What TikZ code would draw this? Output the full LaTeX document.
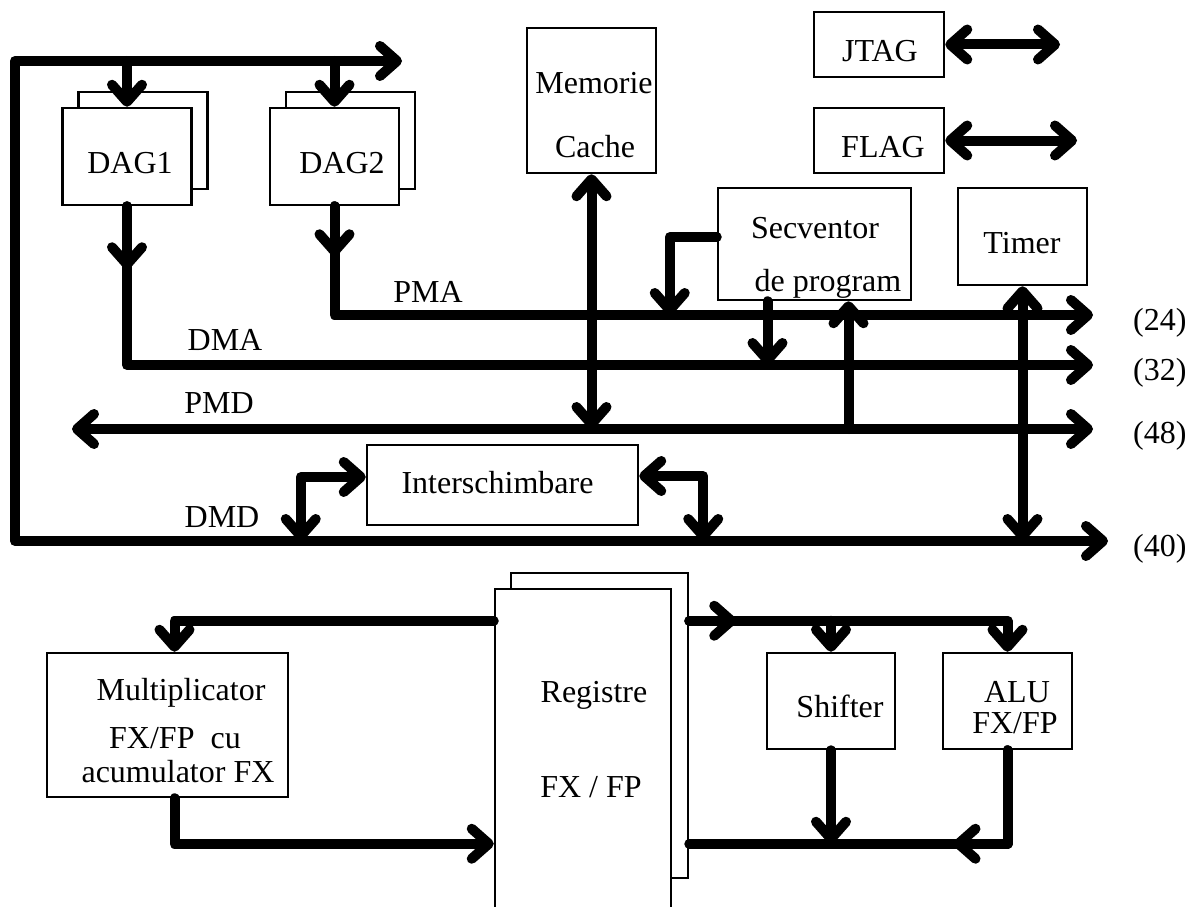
\documentclass[tikz,border=0pt]{standalone}
\usepackage{fontspec}
\setmainfont{Liberation Serif}
\usetikzlibrary{arrows.meta,positioning,calc}

\begin{document}
\begin{tikzpicture}[
        x=1pt, y=-1pt,
        >={Straight Barb[length=17pt,width=30pt,round]},
        bus/.style={line width=10pt, line cap=round, line join=round},
        box/.style={rectangle, draw, fill=white, line width=2.5pt, inner sep=0pt},
        txt/.style={font=\fontsize{32}{36}\selectfont, anchor=base, inner sep=0pt}
    ]
        \useasboundingbox (0,0) rectangle (1194,907);
        \clip (0,0) rectangle (1194,907);

        % Blocks
        \node[box, minimum width=129pt, minimum height=97pt] (dag1b) at (143,140.5) {};
        \node[box, minimum width=129pt, minimum height=97pt] (dag1) at (127,156.5) {};
        \node[box, minimum width=129pt, minimum height=97pt] (dag2b) at (350.5,140.5) {};
        \node[box, minimum width=129pt, minimum height=97pt] (dag2) at (334.5,156.5) {};
        \node[box, minimum width=129pt, minimum height=145pt] (cache) at (591.5,100.5) {};
        \node[box, minimum width=130pt, minimum height=65pt] (jtag) at (879,44.5) {};
        \node[box, minimum width=130pt, minimum height=65pt] (flag) at (879,140.5) {};
        \node[box, minimum width=193pt, minimum height=112pt] (seq) at (814.5,244) {};
        \node[box, minimum width=129pt, minimum height=97pt] (timer) at (1022.5,236.5) {};
        \node[box, minimum width=271pt, minimum height=80pt] (xchg) at (502.5,485) {};
        \node[box, minimum width=241pt, minimum height=144pt] (mult) at (167.5,725) {};
        \node[box, minimum width=177pt, minimum height=305pt] (regb) at (599.5,725.5) {};
        \node[box, minimum width=176pt, minimum height=371pt] (reg) at (583,774.5) {};
        \node[box, minimum width=128pt, minimum height=96pt] (shift) at (831,701) {};
        \node[box, minimum width=129pt, minimum height=96pt] (alu) at (1007.5,701) {};

        % Texts
        \node[txt] (dag1t) at (130,173) {DAG1};
        \node[txt] (dag2t) at (342,173) {DAG2};
        \node[txt] (cachet1) at (594,93) {Memorie};
        \node[txt] (cachet2) at (595,157) {Cache};
        \node[txt] (jtagt) at (880,62) {JTAG};
        \node[txt] (flagt) at (883,157) {FLAG};
        \node[txt] (seqt1) at (815,238) {Secventor};
        \node[txt] (seqt2) at (828,291) {de program};
        \node[txt] (timert) at (1022,253) {Timer};
        \node[txt] (xchgt) at (497.5,493) {Interschimbare};
        \node[txt] (multt1) at (181,700) {Multiplicator};
        \node[txt] (multt2) at (175,748) {FX/FP\ \ cu};
        \node[txt] (multt3) at (178,782) {acumulator FX};
        \node[txt] (regt1) at (594,702) {Registre};
        \node[txt] (regt2) at (591,797) {FX / FP};
        \node[txt] (shiftt) at (840,717) {Shifter};
        \node[txt] (alut1) at (1017,702) {ALU};
        \node[txt] (alut2) at (1015,733) {FX/FP};

        % Bus labels
        \node[txt] (pmal) at (428,302) {PMA};
        \node[txt] (dmal) at (225,350) {DMA};
        \node[txt] (pmdl) at (219,413) {PMD};
        \node[txt] (dmdl) at (222,527) {DMD};
        \node[txt, anchor=base west] (w24) at (1133,330) {(24)};
        \node[txt, anchor=base west] (w32) at (1133,380) {(32)};
        \node[txt, anchor=base west] (w48) at (1133,443) {(48)};
        \node[txt, anchor=base west] (w40) at (1133,556) {(40)};

        % Bus ends
        \coordinate (topend) at (402,61);
        \coordinate (corner) at (15,61);
        \coordinate (dmdend) at (1108,541);
        \coordinate (pmaend) at (1093,315);
        \coordinate (dmaend) at (1093,365);
        \coordinate (pmdleft) at (72,429);
        \coordinate (pmdright) at (1093,429);
        \coordinate (jtagend) at (1060,44.5);
        \coordinate (flagend) at (1077,140.5);

        % Connections
        \draw[bus,<->] (topend) -- (corner) |- (dmdend);
        \draw[bus,->] (dag1 |- corner) -- (dag1.north);
        \draw[bus,->] (dag2 |- corner) -- (dag2.north);
        \draw[bus,->] (dag1.south) |- (dmaend);
        \draw[bus,->] (dag1.south) -- ++(0,63);
        \draw[bus,->] (dag2.south) |- (pmaend);
        \draw[bus,->] (dag2.south) -- ++(0,50);
        \draw[bus,<->] (pmdleft) -- (pmdright);
        \draw[bus,<->] (cache.south) -- (cache.south |- pmdleft);
        \draw[bus,->] ([yshift=7pt]seq.west) -| ($(seq.west |- pmaend)+(-47,0)$);
        \draw[bus,->] ($(seq.south)+(-47,0)$) -- ($(seq.south |- dmaend)+(-47,0)$);
        \draw[bus,->] ($(seq.south |- pmdright)+(34,0)$) -- ($(seq.south)+(34,0)$);
        \draw[bus,<->] (timer.south) -- (timer.south |- dmdend);
        \draw[bus,<->] (jtag.east) -- (jtagend);
        \draw[bus,<->] (flag.east) -- (flagend);
        \draw[bus,<->] ($(xchg.west |- dmdend)+(-65,0)$) |- ([yshift=8pt]xchg.west);
        \draw[bus,<->] ($(xchg.east |- dmdend)+(64,0)$) |- ([yshift=9pt]xchg.east);

        \draw[bus,->] ([yshift=-33pt]reg.north west) -| ([xshift=7pt]mult.north);
        \draw[bus,->] ([xshift=7pt]mult.south) |- ([yshift=-256pt]reg.north west);
        \coordinate (regout) at ([yshift=-49pt]regb.north east);
        \coordinate (regin) at ([yshift=-272pt]regb.north east);
        \draw[bus,->] (regout) -| (alu.north);
        \draw[bus,->] (regout) -- ++(47,0);
        \draw[bus,->] (shift.north |- regout) -- (shift.north);
        \draw[bus] (alu.south) |- (regin);
        \draw[bus,->] (alu.south) |- ($(alu.south |- regin)+(-54,0)$);
        \draw[bus,->] (shift.south) -- (shift.south |- regin);
    \end{tikzpicture}
\end{document}
